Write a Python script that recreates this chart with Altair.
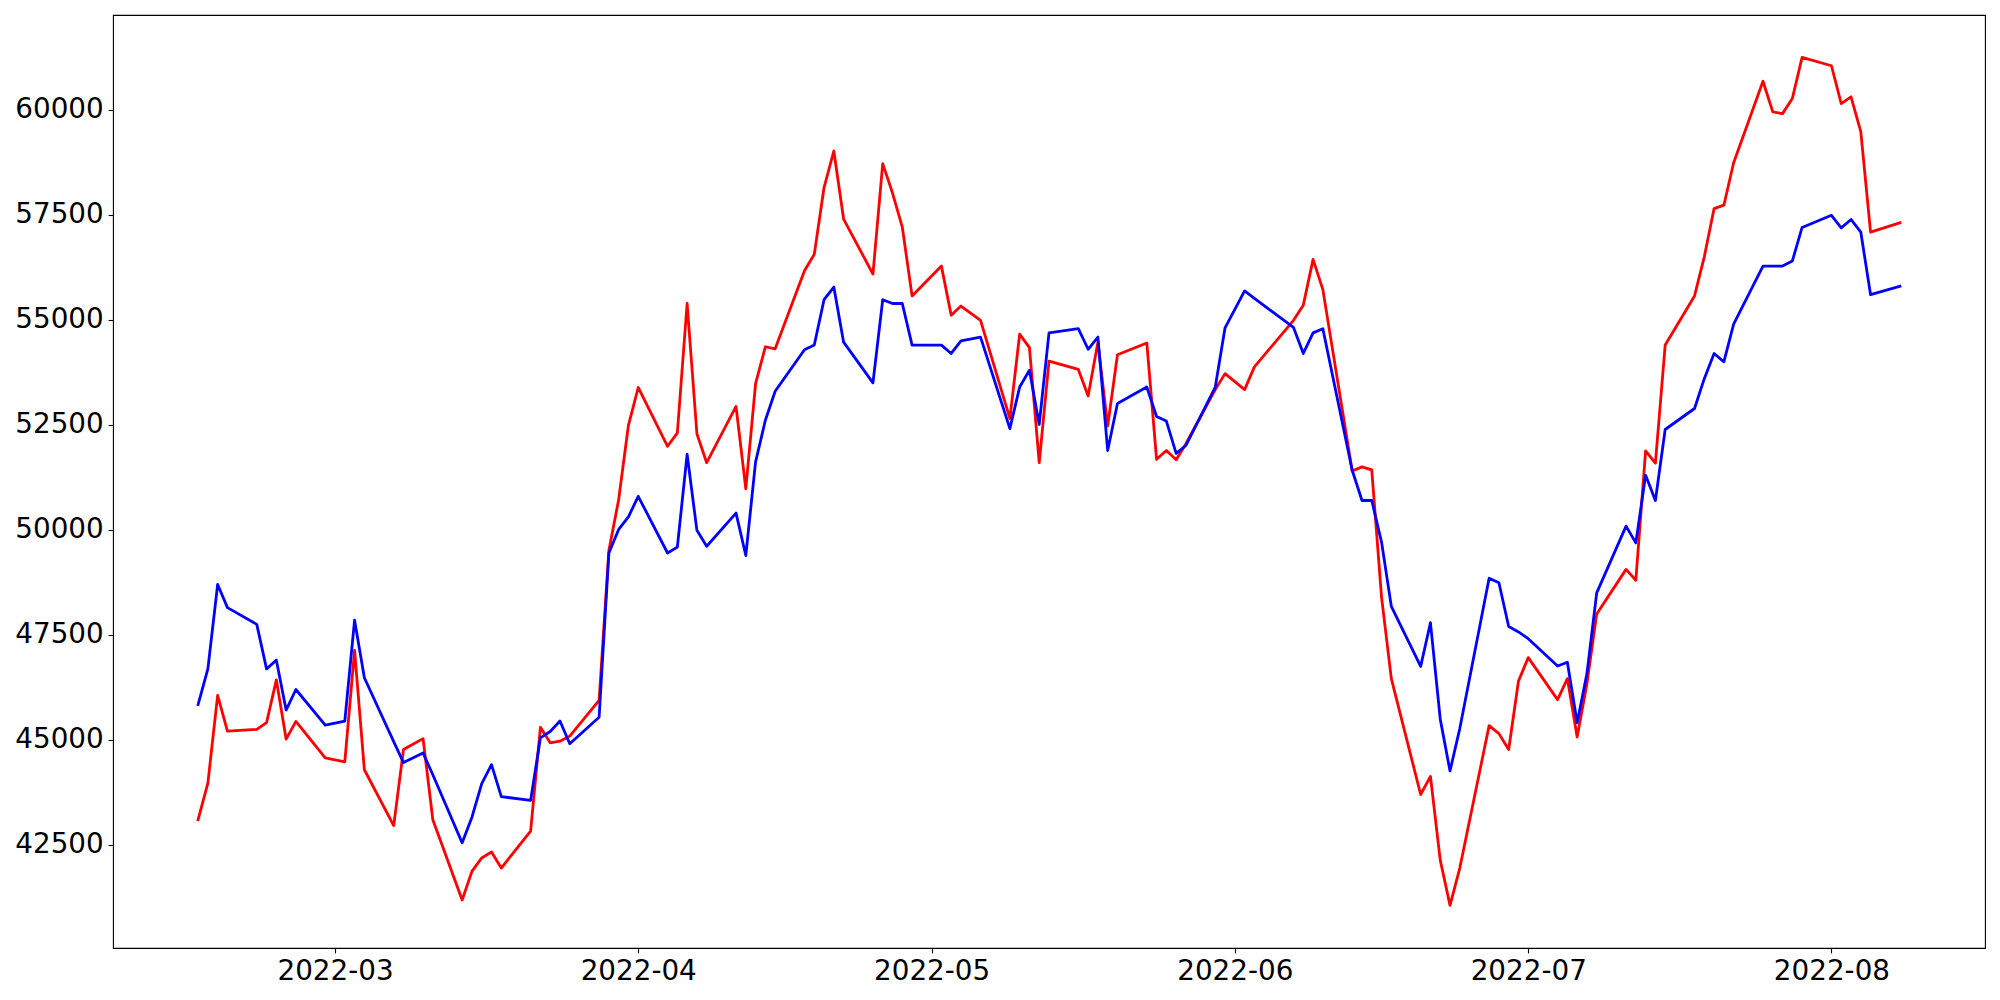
import altair as alt
import pandas as pd

# Trading days (2022)
dates = [
    "2022-02-15", "2022-02-16", "2022-02-17", "2022-02-18", "2022-02-21", "2022-02-22",
    "2022-02-23", "2022-02-24", "2022-02-25", "2022-02-28",
    "2022-03-02", "2022-03-03", "2022-03-04", "2022-03-07", "2022-03-08", "2022-03-10",
    "2022-03-11", "2022-03-14", "2022-03-15", "2022-03-16", "2022-03-17", "2022-03-18",
    "2022-03-21", "2022-03-22", "2022-03-23", "2022-03-24", "2022-03-25", "2022-03-28",
    "2022-03-29", "2022-03-30", "2022-03-31",
    "2022-04-01", "2022-04-04", "2022-04-05", "2022-04-06", "2022-04-07", "2022-04-08",
    "2022-04-11", "2022-04-12", "2022-04-13", "2022-04-14", "2022-04-15", "2022-04-18",
    "2022-04-19", "2022-04-20", "2022-04-21", "2022-04-22", "2022-04-25", "2022-04-26",
    "2022-04-27", "2022-04-28", "2022-04-29",
    "2022-05-02", "2022-05-03", "2022-05-04", "2022-05-06", "2022-05-09", "2022-05-10",
    "2022-05-11", "2022-05-12", "2022-05-13", "2022-05-16", "2022-05-17", "2022-05-18",
    "2022-05-19", "2022-05-20", "2022-05-23", "2022-05-24", "2022-05-25", "2022-05-26",
    "2022-05-27", "2022-05-30", "2022-05-31",
    "2022-06-02", "2022-06-03", "2022-06-07", "2022-06-08", "2022-06-09", "2022-06-10",
    "2022-06-13", "2022-06-14", "2022-06-15", "2022-06-16", "2022-06-17", "2022-06-20",
    "2022-06-21", "2022-06-22", "2022-06-23", "2022-06-24", "2022-06-27", "2022-06-28",
    "2022-06-29", "2022-06-30",
    "2022-07-01", "2022-07-04", "2022-07-05", "2022-07-06", "2022-07-07", "2022-07-08",
    "2022-07-11", "2022-07-12", "2022-07-13", "2022-07-14", "2022-07-15", "2022-07-18",
    "2022-07-19", "2022-07-20", "2022-07-21", "2022-07-22", "2022-07-25", "2022-07-26",
    "2022-07-27", "2022-07-28", "2022-07-29",
    "2022-08-01", "2022-08-02", "2022-08-03", "2022-08-04", "2022-08-05", "2022-08-08",
]

red_values = [
    43100, 43970, 46060, 45210, 45250, 45410, 46430, 45020, 45440, 44570,
    44480, 47130, 44290, 42960, 44770, 45030, 43100, 41190, 41870, 42190, 42330, 41950,
    42830, 45300, 44930, 44970, 45090, 45940, 49510, 50720, 52490,
    53390, 51990, 52310, 55390, 52290, 51600, 52940, 50980, 53480, 54360, 54310, 56170,
    56560, 58150, 59020, 57400, 56090, 58720, 58020, 57210, 55570,
    56280, 55110, 55330, 54990, 52650, 54660, 54340, 51600, 54020, 53820, 53190, 54470,
    52470, 54170, 54450, 51680, 51890, 51670, 52050, 53340, 53720,
    53340, 53880, 54990, 55350, 56440, 55720, 51400, 51500, 51430, 48400, 46460, 43700,
    44130, 42140, 41060, 41950, 45340, 45150, 44770, 46400,
    46960, 45960, 46460, 45070, 46340, 48000, 49060, 48800, 51880, 51590, 54400, 55570,
    56500, 57650, 57730, 58740, 60680, 59950, 59910, 60270, 61250,
    61050, 60150, 60310, 59480, 57090, 57310,
]

blue_values = [
    45840, 46690, 48700, 48150, 47750, 46690, 46900, 45710, 46200, 45350,
    45450, 47850, 46480, 44960, 44460, 44690, 44170, 42550, 43160, 43960, 44410, 43650,
    43560, 45050, 45200, 45450, 44910, 45540, 49450, 50010, 50310,
    50800, 49450, 49590, 51800, 49990, 49610, 50400, 49390, 51620, 52610, 53300, 54290,
    54400, 55480, 55780, 54470, 53500, 55480, 55390, 55390, 54400,
    54400, 54200, 54500, 54590, 52410, 53400, 53800, 52510, 54690, 54790, 54300, 54590,
    51890, 53010, 53400, 52700, 52590, 51820, 52010, 53400, 54810,
    55690, 55510, 54820, 54200, 54690, 54790, 51420, 50700, 50700, 49710, 48180, 46750,
    47790, 45500, 44260, 45270, 48850, 48740, 47700, 47570,
    47410, 46760, 46850, 45410, 46580, 48500, 50090, 49690, 51300, 50700, 52390, 52890,
    53600, 54200, 54000, 54900, 56280, 56280, 56280, 56400, 57200,
    57490, 57190, 57390, 57090, 55600, 55800,
]

y_ticks = [42500, 45000, 47500, 50000, 52500, 55000, 57500, 60000]
x_ticks = ["2022-03-01", "2022-04-01", "2022-05-01", "2022-06-01", "2022-07-01", "2022-08-01"]

df = pd.DataFrame({"date": dates, "red": red_values, "blue": blue_values})

x_enc = alt.X(
    "date:T",
    scale=alt.Scale(
        type="utc",
        domain=[
            alt.DateTime(year=2022, month=2, date=6, hours=7, minutes=12, utc=True),
            alt.DateTime(year=2022, month=8, date=16, hours=16, minutes=48, utc=True),
        ],
    ),
    axis=alt.Axis(
        values=[alt.DateTime(year=int(t[:4]), month=int(t[5:7]), date=1, utc=True) for t in x_ticks],
        labelExpr="utcFormat(datum.value, '%Y-%m')",
        title=None,
        labelPadding=4.4,
    ),
)

y_scale = alt.Scale(domain=[40046, 62258], nice=False, zero=False)
y_axis = alt.Axis(values=y_ticks, format="d", title=None, labelPadding=4.9)

line_style = dict(strokeWidth=2.8, strokeJoin="round", strokeCap="square", clip=True)

red_line = alt.Chart(df).mark_line(color="#ff0000", **line_style).encode(
    x=x_enc, y=alt.Y("red:Q", scale=y_scale, axis=y_axis)
)
blue_line = alt.Chart(df).mark_line(color="#0000ff", **line_style).encode(
    x=x_enc, y=alt.Y("blue:Q", scale=y_scale, axis=y_axis)
)

chart = (
    alt.layer(red_line, blue_line)
    .properties(
        width=1872,
        height=933,
        autosize=alt.AutoSizeParams(type="none"),
        padding={"left": 105, "top": 7, "right": 7, "bottom": 44},
        background="white",
    )
    .configure_view(stroke="black", strokeWidth=1.1)
    .configure_axis(
        domain=False,
        grid=False,
        ticks=True,
        tickColor="black",
        tickSize=4.9,
        tickWidth=1.1,
        labelFont="DejaVu Sans",
        labelFontSize=27.8,
        labelColor="black",
    )
)

chart.save("out.html", embed_options={"renderer": "svg", "actions": False})
